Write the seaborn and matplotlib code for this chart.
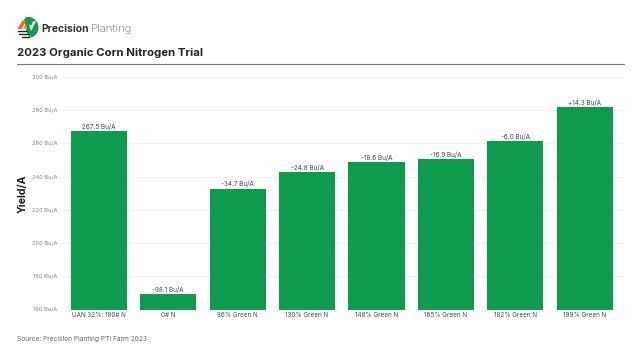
import matplotlib
matplotlib.use("Agg")
import matplotlib.pyplot as plt
from matplotlib.patches import Polygon, Wedge
import pandas as pd
import seaborn as sns

treatments = ["UAN 32%: 180# N", "0# N", "86% Green N", "130% Green N",
              "148% Green N", "165% Green N", "182% Green N", "199% Green N"]
yields = [267.5, 169.4, 232.8, 242.7, 248.9, 250.6, 261.5, 281.8]
bar_labels = ["267.5 Bu/A", "-98.1 Bu/A", "-34.7 Bu/A", "-24.8 Bu/A",
              "-18.6 Bu/A", "-16.9 Bu/A", "-6.0 Bu/A", "+14.3 Bu/A"]
y_ticks = [160, 180, 200, 220, 240, 260, 280, 300]

sns.set_theme(style="white")
plt.rcParams["font.family"] = ["Inter", "DejaVu Sans"]

df = pd.DataFrame({"Treatment": treatments, "Yield": yields})

W, H = 640, 360
fig = plt.figure(figsize=(6.4, 3.6), dpi=100, facecolor="white")
ax = fig.add_axes([62 / W, 1 - 309.5 / H, (624 - 62) / W, (309.5 - 77) / H])

sns.barplot(data=df, x="Treatment", y="Yield", color="#0f9b4e", saturation=1,
            width=0.81, linewidth=0, ax=ax, zorder=3)
ax.set_xlim(-0.53, 7.566)
ax.set_ylim(160, 300)
ax.set_yticks(y_ticks)
ax.set_yticklabels([f"{t} Bu/A" for t in y_ticks])
ax.grid(axis="y", color="#f0f0f0", linewidth=0.8, zorder=0)
ax.set_axisbelow(True)
ax.tick_params(axis="y", labelsize=4.1, labelcolor="#808080", length=0, pad=3.6)
ax.tick_params(axis="x", labelsize=4.55, labelcolor="#4a4a4a", length=0, pad=1.6)
ax.set_xlabel("")
ax.set_ylabel("")
sns.despine(ax=ax, left=True, bottom=True)

ax.bar_label(ax.containers[0], labels=bar_labels, fontsize=4.6, color="#444444", padding=0.8)

fig.text(22.5 / W, 1 - 193.5 / H, "Yield/A", rotation=90, fontsize=7.6, fontweight="bold",
         color="#1c1c1c", ha="center", va="center")

# header
fig.text(17 / W, 1 - 52.5 / H, "2023 Organic Corn Nitrogen Trial", fontsize=8.2,
         fontweight="bold", color="#222222", ha="left", va="center")
fig.add_artist(plt.Line2D([17 / W, 624 / W], [1 - 63.5 / H] * 2, color="#777777", linewidth=0.8))
fig.text(41.5 / W, 1 - 28.5 / H, "Precision", fontsize=7.5, fontweight="bold",
         color="#333333", ha="left", va="center")
fig.text(91 / W, 1 - 28.5 / H, "Planting", fontsize=8.2, fontweight="light",
         color="#666666", ha="left", va="center")
fig.text(17 / W, 1 - 338.5 / H, "Source: Precision Planting PTI Farm 2023", fontsize=4.75,
         color="#666666", ha="left", va="center")

# logo drawn in pixel space
logo = fig.add_axes([0, 0, 1, 1], facecolor="none")
logo.set_xlim(0, W)
logo.set_ylim(H, 0)
logo.axis("off")
logo.add_patch(Wedge((28, 27.5), 10.5, -105, 75, color="#0f9b4e", lw=0))
logo.add_patch(Polygon([[24, 19], [31, 17], [34, 26], [29.5, 38], [26, 30]], color="#0f9b4e", lw=0))
logo.add_patch(Polygon([[29, 24], [31, 31], [36, 21], [33.5, 21], [31, 26]], color="white", lw=0))
logo.add_patch(Polygon([[17.5, 29], [23, 19.5], [25, 23], [21.5, 29]], color="#e0702a", lw=0))
logo.add_patch(Polygon([[22.5, 29], [25.5, 24], [27.5, 29]], color="#efa02e", lw=0))
for y0, x0, x1 in [(31, 18, 27), (34, 19, 28), (37, 22, 29)]:
    logo.add_line(plt.Line2D([x0, x1], [y0, y0], color="#222222", linewidth=1.0))

fig.savefig("out.png", dpi=100)
